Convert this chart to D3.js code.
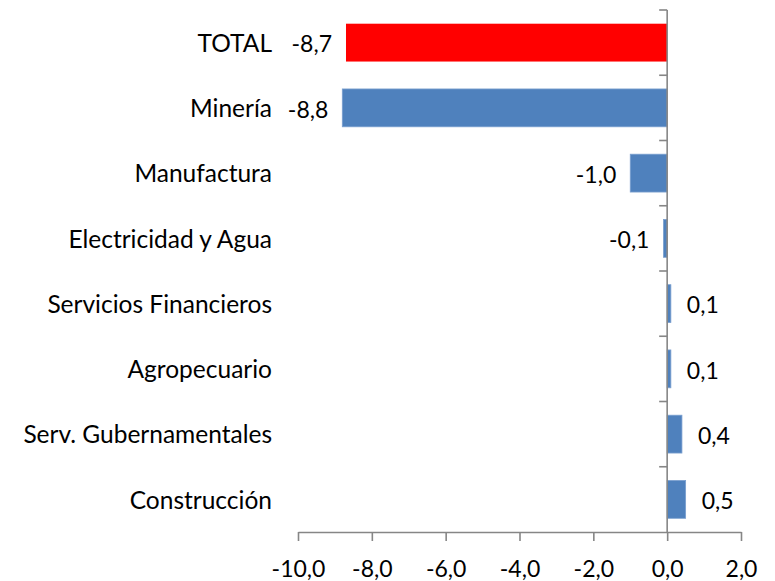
<!DOCTYPE html>
<html>
<head>
<meta charset="utf-8">
<script src="https://cdn.jsdelivr.net/npm/d3@7"></script>
<style>
  body { margin: 0; background: #fff; }
  text { font-family: Lato, "Open Sans", sans-serif; fill: #000; }
</style>
</head>
<body>
<svg id="chart" width="775" height="581"></svg>
<script>
//////////////////////////////////////
// Data

const categories = ['TOTAL', 'Minería', 'Manufactura', 'Electricidad y Agua',
  'Servicios Financieros', 'Agropecuario', 'Serv. Gubernamentales', 'Construcción'];
const values = [-8.7, -8.8, -1.0, -0.1, 0.1, 0.1, 0.4, 0.5];
const xTicks = [-10, -8, -6, -4, -2, 0, 2];

//////////////////////////////////////
// Layout

const W = 775, H = 581;
const plot = {left: 298, right: 741, top: 10, bottom: 532};
const fontSize = 23;
const catFontSize = 24.5;
const axisColor = '#868686';
const fmt = v => d3.format('.1f')(v).replace('.', ',').replace('−', '-');

const svg = d3.select('#chart');

const x = d3.scaleLinear().domain([-10, 2]).range([plot.left, plot.right]);
const y = d3.scaleBand().domain(categories)
  .range([plot.top, plot.bottom])
  .paddingInner(0.42).paddingOuter(0.21);

const data = categories.map((c, i) => ({cat: c, val: values[i]}));

// bars
svg.append('g').selectAll('rect')
  .data(data)
  .enter().append('rect')
  .attr('x', d => x(Math.min(0, d.val)))
  .attr('y', d => y(d.cat))
  .attr('width', d => Math.abs(x(d.val) - x(0)))
  .attr('height', y.bandwidth())
  .attr('fill', d => d.cat === 'TOTAL' ? '#FF0000' : '#4F81BD')
  .attr('stroke', d => d.cat === 'TOTAL' ? 'none' : '#7A9FCF')
  .attr('stroke-width', 0.8);

// x axis
const xAxis = svg.append('g')
  .attr('transform', 'translate(0,' + plot.bottom + ')')
  .call(d3.axisBottom(x).tickValues(xTicks).tickSize(9).tickSizeOuter(0).tickFormat(fmt));
xAxis.select('.domain').attr('stroke', axisColor).attr('stroke-width', 1.6);
xAxis.selectAll('.tick line').attr('stroke', axisColor).attr('stroke-width', 1.6);
xAxis.selectAll('.tick text')
  .attr('y', 45).attr('dy', 0)
  .style('font-size', fontSize + 'px')
  .style('font-family', 'Lato, sans-serif')
  .attr('fill', '#000');

// vertical axis at zero
const step = y.step();
const gap = step * y.paddingInner() / 2;
svg.append('line')
  .attr('x1', x(0)).attr('x2', x(0))
  .attr('y1', plot.top).attr('y2', plot.bottom)
  .attr('stroke', axisColor).attr('stroke-width', 1.6);

const bounds = categories.map(c => y(c) - gap);
svg.append('g').selectAll('line')
  .data(bounds)
  .enter().append('line')
  .attr('x1', x(0) - 8).attr('x2', x(0))
  .attr('y1', d => d).attr('y2', d => d)
  .attr('stroke', axisColor).attr('stroke-width', 1.6);

// category labels
svg.append('g').selectAll('text')
  .data(data)
  .enter().append('text')
  .attr('x', 272)
  .attr('y', d => y(d.cat) + y.bandwidth() / 2)
  .attr('dy', '0.38em')
  .attr('text-anchor', 'end')
  .style('font-size', catFontSize + 'px')
  .text(d => d.cat);

// value labels
svg.append('g').selectAll('text')
  .data(data)
  .enter().append('text')
  .attr('x', d => d.val < 0 ? x(d.val) - 14 : x(d.val) + 16)
  .attr('y', d => y(d.cat) + y.bandwidth() / 2)
  .attr('dy', '0.42em')
  .attr('text-anchor', d => d.val < 0 ? 'end' : 'start')
  .style('font-size', fontSize + 'px')
  .text(d => fmt(d.val));
</script>
</body>
</html>
